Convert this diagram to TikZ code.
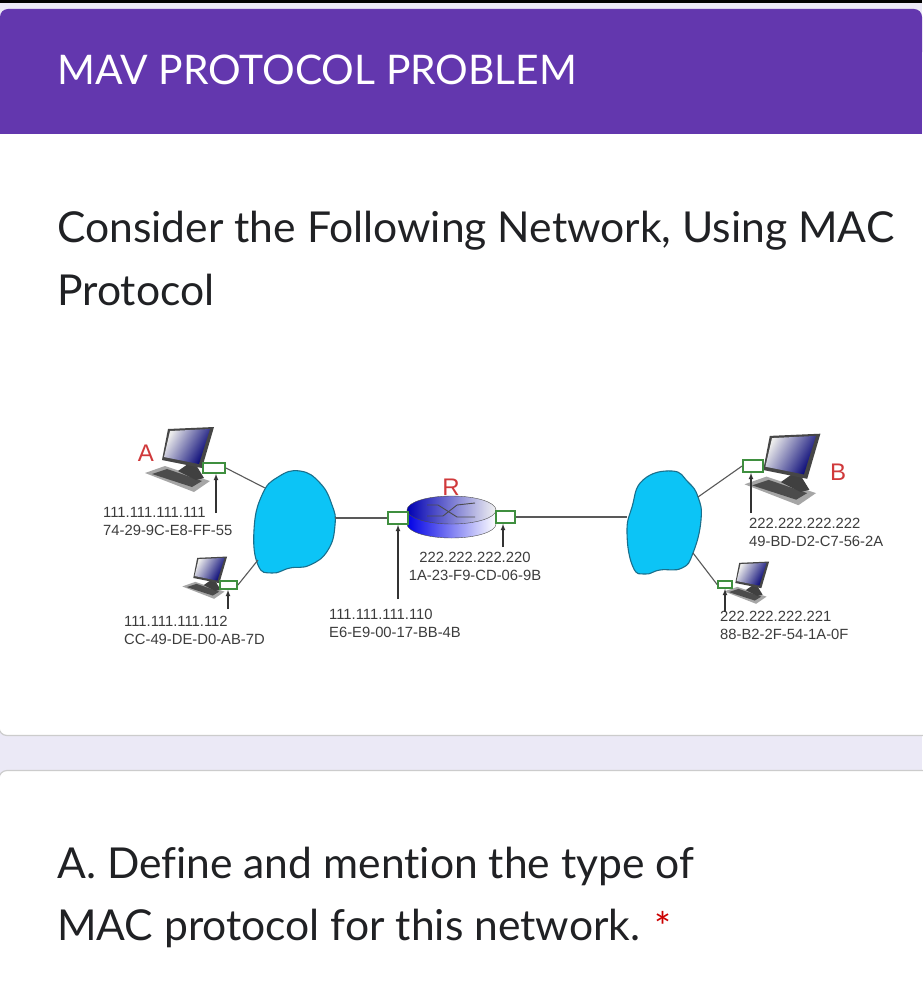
\documentclass[tikz,border=0pt]{standalone}
\usepackage{fontspec}
\setmainfont{Lato}[Ligatures=NoCommon]
\newfontfamily\addrfont{Liberation Sans}
\usepackage{tikz}

\definecolor{Header}{HTML}{6337AE}
\definecolor{Band}{HTML}{EBE9F6}
\definecolor{Cloud}{HTML}{0CC4F6}
\definecolor{CloudEdge}{HTML}{1A6F8C}
\definecolor{Nic}{HTML}{3F8F3F}
\definecolor{Ink}{HTML}{202124}
\definecolor{AddrInk}{HTML}{3C3C3C}
\definecolor{Mark}{HTML}{D0393B}

\tikzset{
  titletext/.style={anchor=base west, inner sep=0, text=white, font=\fontsize{40.8}{41}\selectfont},
  bodytext/.style={anchor=base west, inner sep=0, text=Ink, font=\fontsize{42.6}{43}\selectfont},
  addr/.style={anchor=west, inner sep=0, align=left, text=AddrInk, font=\addrfont\fontsize{14.8}{18}\selectfont},
  hostmark/.style={inner sep=0, text=Mark, font=\addrfont\fontsize{24}{24}\selectfont},
  nic/.style={draw=Nic, fill=white, line width=1.8pt, inner sep=0},
  link/.style={draw=gray!70!black, line width=1.1pt},
  addrarrow/.style={draw=black!80, line width=1.1pt, -latex},
  netcloud/.style={draw=CloudEdge, fill=Cloud, line width=1.1pt},
  cardedge/.style={draw=gray!40, line width=1.2pt, fill=white, rounded corners=8pt},
  pc/.pic={
    \fill[gray!70] (-35,13) -- (-15,6) -- (30,21) -- (14,32) -- cycle;
    \fill[black!70] (-28,14) -- (-13,9) -- (22,21) -- (12,27) -- cycle;
    \fill[black!75] (-2,11) -- (8,4) -- (16,5) -- (24,18) -- (16,20) -- cycle;
    \fill[gray!55!black] (-12,-31) -- (34,-33) -- (22,8) -- (-18,0) -- cycle;
    \shade[left color=gray!15, right color=blue!45!black, shading angle=60] (-10,-29) -- (30,-31) -- (19,4) -- (-16,-3) -- cycle;
  }
}

\begin{document}
\begin{tikzpicture}[x=1pt, y=-1pt]
  \useasboundingbox (0,0) rectangle (922,1000);
  \fill[white] (0,0) rectangle (922,1000);

  \fill[Band] (0,3) rectangle (922,40);
  \fill[black] (0,0) rectangle (922,3);
  \fill[Header, rounded corners=8pt] (0,9) -- (922,9) -- (922,60) -- (0,60) -- cycle;
  \fill[Header] (0,30) rectangle (922,134);

  \fill[Band] (0,725) rectangle (922,781);
  \path[cardedge] (-1,700) -- (-1,735.5) -- (940,735.5) -- (940,700);
  \path[cardedge] (-1,800) -- (-1,770.5) -- (940,770.5) -- (940,800);

  \node[titletext] (title) at (57,85) {MAV PROTOCOL PROBLEM};
  \node[bodytext] (line1) at (57,243) {Consider the Following Network, Using MAC};
  \node[bodytext] (line2) at (57,305) {Protocol};
  \node[bodytext] (line3) at (57,878) {A. Define and mention the type of};
  \node[bodytext] (line4) at (57,940) {MAC protocol for this network.};
  \node[inner sep=0, text=red!80!black, font=\fontsize{40}{40}\selectfont] (star) at (663,926) {*};

  \draw[netcloud] plot[smooth cycle, tension=.8] coordinates {(300,471) (320,483) (332,505) (335,525) (328,550) (310,565) (290,568) (272,573) (258,565) (254,530) (262,495) (278,477)};
  \draw[netcloud] plot[smooth cycle, tension=.8] coordinates {(672,471) (688,482) (698,497) (701,520) (693,553) (682,568) (660,570) (645,574) (633,567) (627,533) (632,507) (643,480)};

  \coordinate (leftA) at (265,488);
  \coordinate (leftC) at (258,560);
  \coordinate (leftR) at (335,518);
  \coordinate (rightR) at (627,517);
  \coordinate (rightB) at (698,497);
  \coordinate (rightD) at (693,553);

  \pic[scale=1] at (180,460) {pc};
  \pic[scale=.65] at (205,578) {pc};
  \pic[scale=1.1] at (783,470) {pc};
  \pic[scale=.65] at (747,583) {pc};

  \node[hostmark] (markr) at (451,487) {R};
  \shade[left color=blue!90!black, right color=white, draw=black!70] (407,510) -- (407,524) arc[start angle=180, end angle=0, x radius=44.5, y radius=14] -- (496,510) -- cycle;
  \shade[left color=blue!70!black, right color=gray!10, draw=black!70] (451.5,510) ellipse[x radius=44.5, y radius=14];
  \draw[black!70, line width=.9pt] (427,505) -- (438,505) -- (457,517) -- (475,517);
  \draw[black!70, line width=.9pt] (427,516) -- (443,516) -- (457,505) -- (475,503);

  \node[nic, minimum width=22pt, minimum height=10pt] (nica) at (214,468) {};
  \node[nic, minimum width=17pt, minimum height=8pt] (nicc) at (228.5,585) {};
  \node[nic, minimum width=20pt, minimum height=12pt] (nicrl) at (398,518) {};
  \node[nic, minimum width=19pt, minimum height=12pt] (nicrr) at (505.5,517) {};
  \node[nic, minimum width=20pt, minimum height=12pt] (nicb) at (753,466) {};
  \node[nic, minimum width=14pt, minimum height=7pt] (nicd) at (725,584.5) {};

  \draw[link] (nica.east) -- (leftA);
  \draw[link] (nicc.east) -- (leftC);
  \draw[link] (leftR) -- (nicrl.west);
  \draw[link] (nicrr.east) -- (rightR);
  \draw[link] (nicb.west) -- (rightB);
  \draw[link] (nicd.west) -- (rightD);

  \node[hostmark] (marka) at (146,453) {A};
  \node[hostmark] (markb) at (838,472) {B};

  \node[addr] (addra) at (103,521.5) {111.111.111.111\\74-29-9C-E8-FF-55};
  \node[addr] (addrc) at (124,630) {111.111.111.112\\CC-49-DE-D0-AB-7D};
  \node[addr, anchor=center, align=center] (addrrr) at (475,566) {222.222.222.220\\1A-23-F9-CD-06-9B};
  \node[addr] (addrrl) at (329,623.5) {111.111.111.110\\E6-E9-00-17-BB-4B};
  \node[addr] (addrb) at (749,532) {222.222.222.222\\49-BD-D2-C7-56-2A};
  \node[addr] (addrd) at (720,625.5) {222.222.222.221\\88-B2-2F-54-1A-0F};

  \coordinate (taila) at (216,513);
  \coordinate (tailc) at (228,609);
  \coordinate (tailrl) at (398,599);
  \coordinate (tailrr) at (503,547);
  \coordinate (tailb) at (751,513);
  \coordinate (taild) at (725,612);

  \draw[addrarrow] (taila) -- (taila |- nica.south);
  \draw[addrarrow] (tailc) -- (tailc |- nicc.south);
  \draw[addrarrow] (tailrl) -- (tailrl |- nicrl.south);
  \draw[addrarrow] (tailrr) -- (tailrr |- nicrr.south);
  \draw[addrarrow] (tailb) -- (tailb |- nicb.south);
  \draw[addrarrow] (taild) -- (taild |- nicd.south);
\end{tikzpicture}
\end{document}
